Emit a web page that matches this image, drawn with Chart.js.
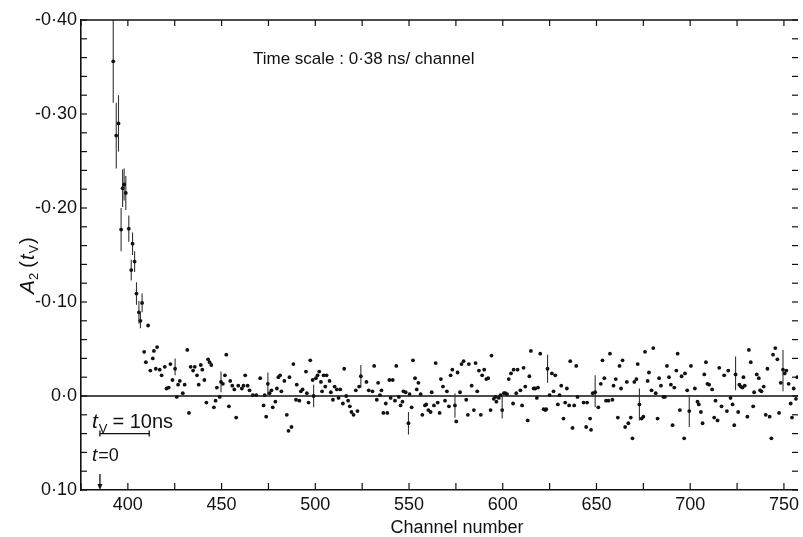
<!DOCTYPE html>
<html>
<head>
<meta charset="utf-8">
<script src="https://cdn.jsdelivr.net/npm/chart.js@4.4.1/dist/chart.umd.min.js"></script>
<style>
  html, body { margin: 0; padding: 0; background: #fff; }
</style>
</head>
<body>
<canvas id="chart" width="803" height="537"></canvas>
<script>
const channels = [
  392.2, 393.8, 395.0, 396.4, 397.2, 398.0, 398.9, 400.5, 401.8, 402.5,
  403.6, 404.6, 405.9, 406.7, 407.6, 408.7, 409.6, 410.8, 412.0, 413.3,
  413.9, 414.9, 415.6, 417.0, 418.0, 419.7, 420.6, 421.8, 422.7, 423.8,
  425.2, 426.1, 426.8, 427.7, 429.3, 430.3, 431.7, 432.6, 433.5, 434.8,
  435.7, 436.9, 437.8, 438.9, 439.7, 440.8, 441.9, 442.8, 443.6, 444.5,
  445.9, 446.8, 447.5, 449.0, 449.7, 450.7, 451.8, 452.5, 453.9, 454.6,
  455.7, 456.8, 457.8, 458.9, 460.8, 461.7, 462.6, 463.9, 464.9, 466.7,
  468.5, 470.6, 472.4, 473.0, 473.8, 474.7, 475.6, 476.6, 477.3, 478.7,
  479.5, 480.3, 481.2, 481.9, 483.5, 484.8, 485.7, 486.2, 487.3, 488.3,
  489.7, 490.1, 491.5, 492.3, 493.2, 495.0, 495.5, 496.4, 497.3, 498.6,
  499.1, 500.3, 501.2, 502.1, 503.0, 503.6, 504.4, 505.3, 506.0, 507.6,
  508.3, 509.4, 510.3, 511.5, 512.4, 513.3, 514.7, 515.4, 516.5, 517.5,
  518.4, 519.3, 520.4, 521.6, 522.5, 523.4, 524.3, 527.3, 528.5, 530.5,
  531.4, 532.8, 533.5, 534.5, 535.3, 536.3, 537.6, 538.4, 539.5, 540.2,
  541.3, 542.5, 543.2, 544.6, 545.5, 546.5, 547.0, 548.2, 549.7, 550.3,
  551.4, 552.1, 553.2, 554.1, 555.0, 556.2, 557.1, 558.5, 559.2, 560.3,
  561.5, 562.1, 563.3, 564.2, 565.3, 566.3, 567.0, 568.1, 569.2, 570.2,
  571.3, 572.2, 573.1, 574.5, 575.2, 575.9, 577.2, 578.0, 579.1, 580.5,
  581.4, 581.9, 583.4, 584.6, 585.5, 586.4, 587.3, 588.3, 589.0, 590.1,
  591.2, 592.2, 593.5, 594.0, 595.2, 596.1, 596.6, 597.9, 598.8, 599.7,
  600.6, 601.4, 602.3, 603.2, 604.4, 605.5, 605.8, 607.2, 607.9, 609.4,
  610.3, 611.1, 612.0, 613.3, 614.2, 615.0, 616.5, 617.3, 618.2, 618.8,
  620.0, 621.8, 622.7, 623.2, 623.9, 625.0, 626.2, 627.1, 628.0, 629.4,
  630.3, 631.2, 632.4, 633.3, 634.2, 635.4, 636.0, 637.2, 638.1, 639.2,
  639.9, 643.1, 644.5, 645.0, 646.6, 647.1, 648.0, 649.3, 651.0, 652.3,
  653.2, 654.2, 655.1, 656.4, 657.2, 658.5, 659.1, 660.3, 661.4, 662.3,
  663.1, 663.9, 665.3, 666.2, 667.0, 668.3, 669.2, 670.2, 671.3, 672.0,
  672.9, 674.1, 675.0, 675.9, 677.3, 678.0, 679.4, 680.3, 681.6, 682.6,
  683.4, 684.4, 685.7, 686.5, 687.6, 688.7, 689.7, 690.6, 691.5, 692.6,
  693.3, 694.5, 695.4, 696.8, 697.2, 698.4, 699.5, 700.4, 702.5, 703.9,
  704.6, 705.7, 706.6, 707.5, 708.4, 709.2, 710.1, 711.7, 712.8, 713.5,
  714.6, 715.5, 716.7, 718.1, 719.6, 720.3, 721.5, 722.6, 723.5, 724.2,
  725.6, 726.2, 727.0, 727.9, 728.4, 729.1, 730.5, 731.3, 732.3, 733.6,
  734.1, 735.5, 736.6, 737.3, 738.0, 739.2, 740.3, 741.2, 742.4, 743.3,
  744.2, 745.4, 746.5, 747.4, 748.3, 749.5, 750.4, 751.3, 752.5, 753.6,
  754.3, 755.2, 756.4, 757.1
];

// A2(tv) for each channel above, same order
const a2Values = [
  -0.356, -0.277, -0.290, -0.177, -0.221, -0.225, -0.216, -0.178, -0.134, -0.162,
  -0.143, -0.109, -0.089, -0.080, -0.099, -0.047, -0.036, -0.075, -0.027, -0.040,
  -0.048, -0.029, -0.052, -0.028, -0.022, -0.031, -0.008, -0.009, -0.034, -0.017,
  -0.029, 0.001, -0.012, -0.016, -0.003, -0.012, -0.049, 0.018, -0.031, -0.027,
  -0.031, -0.022, -0.012, -0.033, -0.028, -0.017, 0.007, -0.039, -0.036, -0.033,
  0.012, 0.005, -0.009, 0.001, -0.015, -0.013, -0.022, -0.044, 0.011, -0.016,
  -0.011, -0.007, 0.023, -0.011, -0.008, -0.011, -0.022, -0.011, -0.006, -0.001,
  -0.001, -0.019, 0.010, -0.001, 0.022, -0.013, -0.003, -0.006, 0.012, 0.006,
  -0.008, -0.020, -0.022, -0.005, -0.016, 0.020, 0.037, -0.020, 0.033, -0.034,
  0.004, -0.012, 0.005, -0.005, -0.007, -0.026, -0.003, 0.007, -0.038, -0.017,
  0.000, -0.019, -0.022, -0.026, -0.015, -0.005, -0.022, -0.010, -0.022, -0.016,
  -0.004, 0.004, -0.010, -0.007, 0.002, -0.007, 0.008, -0.029, 0.000, 0.005,
  0.011, 0.017, 0.020, -0.006, 0.016, -0.010, -0.021, -0.015, -0.006, -0.005,
  -0.032, 0.004, -0.014, -0.001, -0.006, 0.018, 0.008, 0.018, -0.017, 0.002,
  -0.017, 0.005, -0.032, 0.001, 0.010, 0.006, -0.005, -0.004, 0.029, -0.002,
  0.012, -0.038, -0.019, -0.007, -0.014, -0.002, 0.020, 0.010, 0.009, 0.015,
  0.017, -0.004, 0.010, -0.035, 0.007, 0.018, -0.018, -0.010, 0.005, -0.005,
  0.011, -0.022, -0.028, 0.010, 0.027, -0.025, -0.004, -0.034, -0.037, 0.004,
  0.020, -0.034, -0.011, 0.015, -0.035, -0.005, -0.027, 0.020, -0.022, -0.028,
  -0.018, -0.019, 0.015, -0.043, 0.003, 0.001, 0.006, 0.002, -0.001, 0.015,
  -0.003, -0.003, -0.002, -0.018, -0.024, 0.008, -0.028, -0.003, -0.028, -0.006,
  0.010, -0.030, -0.010, 0.026, -0.021, -0.048, -0.008, -0.008, 0.002, -0.009,
  -0.045, 0.014, 0.015, 0.014, -0.029, -0.001, -0.024, -0.005, -0.022, 0.009,
  -0.001, -0.011, 0.024, 0.007, -0.008, 0.010, -0.037, 0.034, 0.010, -0.032,
  0.001, 0.007, 0.033, 0.007, 0.024, 0.036, -0.003, -0.004, 0.012, -0.013,
  -0.038, -0.019, 0.005, 0.005, -0.045, 0.004, -0.011, -0.018, 0.023, -0.032,
  -0.008, -0.038, 0.033, -0.015, 0.029, 0.023, 0.045, -0.015, -0.018, -0.034,
  0.009, 0.024, 0.022, -0.047, -0.016, -0.025, -0.006, -0.051, -0.003, 0.024,
  -0.019, -0.011, 0.001, 0.001, -0.032, -0.020, -0.012, 0.031, -0.009, -0.027,
  -0.045, 0.015, -0.021, 0.045, -0.024, -0.006, 0.016, -0.032, -0.008, 0.006,
  0.009, 0.017, 0.029, -0.023, -0.036, -0.013, -0.012, -0.007, 0.023, 0.005,
  0.026, -0.030, 0.011, -0.022, 0.016, -0.027, 0.002, 0.009, 0.031, -0.023,
  0.017, -0.012, -0.010, -0.009, -0.020, -0.011, 0.022, -0.049, -0.036, 0.011,
  -0.004, -0.023, -0.019, -0.006, -0.005, -0.010, 0.020, -0.029, 0.022, 0.045,
  -0.044, -0.051, -0.039, 0.018, -0.014, -0.028, -0.024, -0.027, -0.013, 0.008,
  0.023, -0.008, 0.003, -0.020
];

// error bars: channel, centre and half length
const errChannels = [392.2, 393.8, 395.0, 396.4, 397.2, 398.0, 398.9, 400.5, 401.8, 402.5,
  403.6, 404.6, 405.9, 406.7, 407.6, 425.2, 449.7, 474.7, 499.1, 524.3,
  549.7, 574.5, 599.7, 623.9, 649.3, 672.9, 699.5, 724.2, 749.5];
const errCenters = [-0.356, -0.277, -0.290, -0.177, -0.221, -0.225, -0.216, -0.178, -0.134, -0.162,
  -0.143, -0.109, -0.089, -0.080, -0.099, -0.031, -0.015, -0.013, 0.000, -0.021,
  0.029, 0.010, 0.012, -0.029, -0.005, 0.009, 0.016, -0.024, -0.027];
const errHalf = [0.044, 0.035, 0.030, 0.023, 0.020, 0.017, 0.018, 0.014, 0.011, 0.012,
  0.011, 0.012, 0.012, 0.008, 0.010, 0.009, 0.011, 0.012, 0.012, 0.012,
  0.012, 0.013, 0.012, 0.015, 0.017, 0.017, 0.017, 0.018, 0.022];

// tick labels
const yMajorValues = [-0.40, -0.30, -0.20, -0.10, 0, 0.10];
const yMajorLabels = ['-0·40', '-0·30', '-0·20', '-0·10', '0·0', '0·10'];
const xMajorValues = [400, 450, 500, 550, 600, 650, 700, 750];
const xMajorLabels = ['400', '450', '500', '550', '600', '650', '700', '750'];

// scale bar (tv = 10 ns = 26.3 channels) and the t = 0 arrow
const scaleBarChannels = [385.1, 411.4];
const scaleBarLevel = 0.040;
const zeroTimeChannel = 385.1;

const FONT = '"Liberation Sans", Arial, sans-serif';
const INK = '#111';

const findLabel = (values, labels, v, tol) => {
    const i = values.findIndex(m => Math.abs(m - v) < tol);
    return i >= 0 ? labels[i] : '';
};

const line = (ctx, x1, y1, x2, y2) => {
    ctx.beginPath();
    ctx.moveTo(x1, y1);
    ctx.lineTo(x2, y2);
    ctx.stroke();
};

// draws a run of text pieces with their own fonts / baseline shifts
const drawParts = (ctx, parts, x, y) => {
    let cx = x;
    parts.forEach(p => {
        ctx.font = p.font;
        ctx.fillText(p.t, cx, y + (p.dy || 0));
        cx += ctx.measureText(p.t).width + (p.gap || 0);
    });
};

const decorPlugin = {
    id: 'decor',
    beforeDatasetsDraw(chart) {
        const { ctx, chartArea: a, scales: { x, y } } = chart;
        ctx.save();
        ctx.beginPath();
        ctx.rect(a.left, a.top, a.right - a.left, a.bottom - a.top);
        ctx.clip();
        // zero line
        ctx.strokeStyle = INK;
        ctx.lineWidth = 1.6;
        const y0 = y.getPixelForValue(0);
        line(ctx, a.left, y0, a.right, y0);
        // error bars
        ctx.strokeStyle = '#333';
        ctx.lineWidth = 1.1;
        errChannels.forEach((c, i) => {
            const px = x.getPixelForValue(c);
            line(ctx, px, y.getPixelForValue(errCenters[i] - errHalf[i]),
                      px, y.getPixelForValue(errCenters[i] + errHalf[i]));
        });
        ctx.restore();
    },
    afterDraw(chart) {
        const { ctx, chartArea: a, scales: { x, y } } = chart;
        ctx.save();
        ctx.strokeStyle = INK;
        ctx.fillStyle = INK;

        // frame top line
        ctx.lineWidth = 1.6;
        line(ctx, a.left, a.top, a.right, a.top);

        // inward tick marks
        ctx.lineWidth = 1.2;
        y.ticks.forEach(t => {
            const py = y.getPixelForValue(t.value);
            line(ctx, a.left, py, a.left + 6, py);
            line(ctx, a.right - 6, py, a.right, py);
        });
        x.ticks.forEach(t => {
            const px = x.getPixelForValue(t.value);
            line(ctx, px, a.bottom, px, a.bottom - 7);
            line(ctx, px, a.top, px, a.top + 6);
        });

        // scale bar
        const sbY = y.getPixelForValue(scaleBarLevel);
        const sbX1 = x.getPixelForValue(scaleBarChannels[0]);
        const sbX2 = x.getPixelForValue(scaleBarChannels[1]);
        ctx.lineWidth = 1.3;
        line(ctx, sbX1, sbY, sbX2, sbY);
        line(ctx, sbX1, sbY - 3, sbX1, sbY + 3);
        line(ctx, sbX2, sbY - 3, sbX2, sbY + 3);

        // t = 0 arrow
        const arX = x.getPixelForValue(zeroTimeChannel);
        const arTop = y.getPixelForValue(0.083);
        const arBot = y.getPixelForValue(0.10);
        line(ctx, arX, arTop, arX, arBot - 3);
        ctx.beginPath();
        ctx.moveTo(arX - 2.5, arBot - 6);
        ctx.lineTo(arX + 2.5, arBot - 6);
        ctx.lineTo(arX, arBot);
        ctx.closePath();
        ctx.fill();

        // texts
        ctx.textBaseline = 'alphabetic';
        ctx.textAlign = 'left';
        drawParts(ctx, [{ t: 'Time scale : 0·38 ns/ channel', font: '17px ' + FONT }], 253, 64);
        drawParts(ctx, [
            { t: 't', font: 'italic 21px ' + FONT, gap: 1 },
            { t: 'V', font: '13px ' + FONT, dy: 5, gap: 5 },
            { t: '= 10ns', font: '20px ' + FONT }
        ], 92, 428);
        drawParts(ctx, [
            { t: 't', font: 'italic 19px ' + FONT, gap: 1 },
            { t: '=0', font: '18px ' + FONT }
        ], 92, 461);

        ctx.textAlign = 'center';
        ctx.font = '18px ' + FONT;
        ctx.fillText('Channel number', 457, 533);

        // rotated y axis title  A2 (tV)
        ctx.translate(34, 262);
        ctx.rotate(-Math.PI / 2);
        ctx.textAlign = 'left';
        drawParts(ctx, [
            { t: 'A', font: 'italic 21px ' + FONT },
            { t: '2', font: '13px ' + FONT, dy: 4, gap: 5 },
            { t: '(', font: '20px ' + FONT, gap: 1 },
            { t: 't', font: 'italic 20px ' + FONT, gap: 1 },
            { t: 'V', font: '13px ' + FONT, dy: 4, gap: 1 },
            { t: ')', font: '20px ' + FONT }
        ], -32, 0);
        ctx.restore();
    }
};

const points = channels.map((c, i) => ({ x: c, y: a2Values[i] }));

new Chart(document.getElementById('chart'), {
    type: 'scatter',
    data: {
        datasets: [{
            label: 'A2(tv)',
            data: points,
            pointRadius: 1.9,
            pointHoverRadius: 1.9,
            pointBackgroundColor: INK,
            pointBorderWidth: 0
        }]
    },
    options: {
        responsive: false,
        animation: false,
        devicePixelRatio: 1,
        layout: { padding: { top: 20, right: 3, left: 0, bottom: 0 } },
        plugins: {
            legend: { display: false },
            tooltip: { enabled: false }
        },
        scales: {
            x: {
                type: 'linear',
                min: 375,
                max: 757.5,
                afterFit: (s) => { s.height = 47; },
                grid: { display: false, drawTicks: false },
                border: { display: true, color: INK, width: 1.6 },
                ticks: {
                    stepSize: 25,
                    autoSkip: false,
                    includeBounds: false,
                    maxRotation: 0,
                    padding: 4,
                    color: INK,
                    font: { family: FONT, size: 18 },
                    callback: (v) => findLabel(xMajorValues, xMajorLabels, v, 0.01)
                }
            },
            y: {
                type: 'linear',
                reverse: true,
                min: -0.40,
                max: 0.10,
                afterFit: (s) => { s.width = 81; },
                grid: { display: false, drawTicks: false },
                border: { display: true, color: INK, width: 1.6 },
                ticks: {
                    stepSize: 0.02,
                    maxTicksLimit: 100,
                    autoSkip: false,
                    padding: 4,
                    color: INK,
                    font: { family: FONT, size: 18 },
                    callback: (v) => findLabel(yMajorValues, yMajorLabels, v, 0.001)
                }
            }
        }
    },
    plugins: [decorPlugin]
});
</script>
</body>
</html>
